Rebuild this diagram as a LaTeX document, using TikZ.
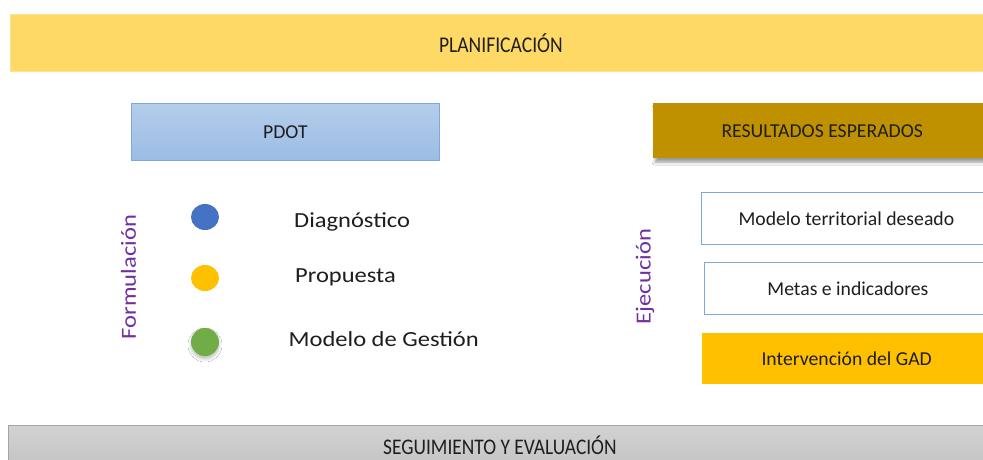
\documentclass[tikz,border=0pt]{standalone}
\usepackage{fontspec}
\setmainfont{Carlito}
\newfontfamily\estrecha[FakeStretch=0.87]{Carlito}
\newfontfamily\ancha[FakeStretch=1.14]{Carlito}
\usetikzlibrary{shadows.blur,shapes.geometric}
\definecolor{oroclaro}{HTML}{FFD966}
\definecolor{oroborde}{HTML}{FFE38F}
\definecolor{azularriba}{HTML}{B4CDEB}
\definecolor{azulabajo}{HTML}{9CBCE4}
\definecolor{azulborde}{HTML}{7FA9DE}
\definecolor{oscuro}{HTML}{BF9000}
\definecolor{morado}{HTML}{7030A0}
\definecolor{azulpunto}{HTML}{4472C4}
\definecolor{amarillo}{HTML}{FFC000}
\definecolor{verde}{HTML}{70AD47}
\definecolor{grisarriba}{HTML}{D2D2D2}
\definecolor{grisabajo}{HTML}{C4C4C4}
\definecolor{grisborde}{HTML}{A5A5A5}
\definecolor{texto}{HTML}{1E1E1E}
\begin{document}
\begin{tikzpicture}[x=1pt,y=-1pt,
    caja/.style={anchor=north west,inner sep=0pt,text=texto,
        font=\fontsize{19.7}{23}\selectfont},
    etiqueta/.style={anchor=base west,inner sep=0pt,text=texto,
        font=\fontsize{21.5}{25}\selectfont\ancha},
    fase/.style={rotate=90,inner sep=0pt,text=morado,
        font=\fontsize{21.5}{25}\selectfont\ancha},
    punto/.style={ellipse,minimum width=28pt,minimum height=26pt,inner sep=0pt}]
    \useasboundingbox (0,0) rectangle (983,459);
    \clip (0,0) rectangle (983,459);
    \fill[white] (0,0) rectangle (983,459);

    %barras
    \node[caja,fill=oroclaro,draw=oroborde,line width=0.8pt,minimum width=981pt,minimum height=57pt,
        font=\fontsize{22.5}{26}\selectfont\estrecha] (planificacion) at (10,14) {PLANIFICACIÓN};
    \node[caja,top color=grisarriba,bottom color=grisabajo,draw=grisborde,line width=0.8pt,
        minimum width=983pt,minimum height=40pt,font=\fontsize{22.3}{26}\selectfont\estrecha]
        (seguimiento) at (8,425) {SEGUIMIENTO Y EVALUACIÓN};

    %cajas de arriba
    \node[caja,top color=azularriba,bottom color=azulabajo,draw=azulborde,line width=0.8pt,
        minimum width=308pt,minimum height=57pt] (pdot) at (131,103) {PDOT};
    \node[caja,fill=oscuro,minimum width=338pt,minimum height=55pt,
        blur shadow={shadow xshift=2pt,shadow yshift=-4pt,shadow blur radius=3pt,shadow opacity=40}]
        (resultados) at (653,103) {RESULTADOS ESPERADOS};

    %formulacion
    \node[fase] (formulacion) at (128.5,277) {Formulación};
    \node[punto,fill=azulpunto] (p1) at (205,217) {};
    \node[punto,fill=amarillo] (p2) at (205,278) {};
    \node[punto,fill=verde,minimum height=28pt,
        blur shadow={shadow xshift=0pt,shadow yshift=-3pt,shadow blur radius=3pt,shadow opacity=25}]
        (p3) at (205,342) {};
    \node[etiqueta] (diagnostico) at (294,227.5) {Diagnóstico};
    \node[etiqueta] (propuesta) at (295,282.5) {Propuesta};
    \node[etiqueta] (gestion) at (288.5,346) {Modelo de Gestión};

    %ejecucion
    \node[fase] (ejecucion) at (645,276.5) {Ejecución};
    \node[caja,draw=azulborde,line width=0.8pt,minimum width=290pt,minimum height=52pt]
        (modelo) at (701,192) {Modelo territorial deseado};
    \node[caja,draw=azulborde,line width=0.8pt,minimum width=287pt,minimum height=52pt]
        (metas) at (704,262) {Metas e indicadores};
    \node[caja,fill=amarillo,minimum width=289pt,minimum height=51pt]
        (intervencion) at (702,333) {Intervención del GAD};
\end{tikzpicture}
\end{document}
